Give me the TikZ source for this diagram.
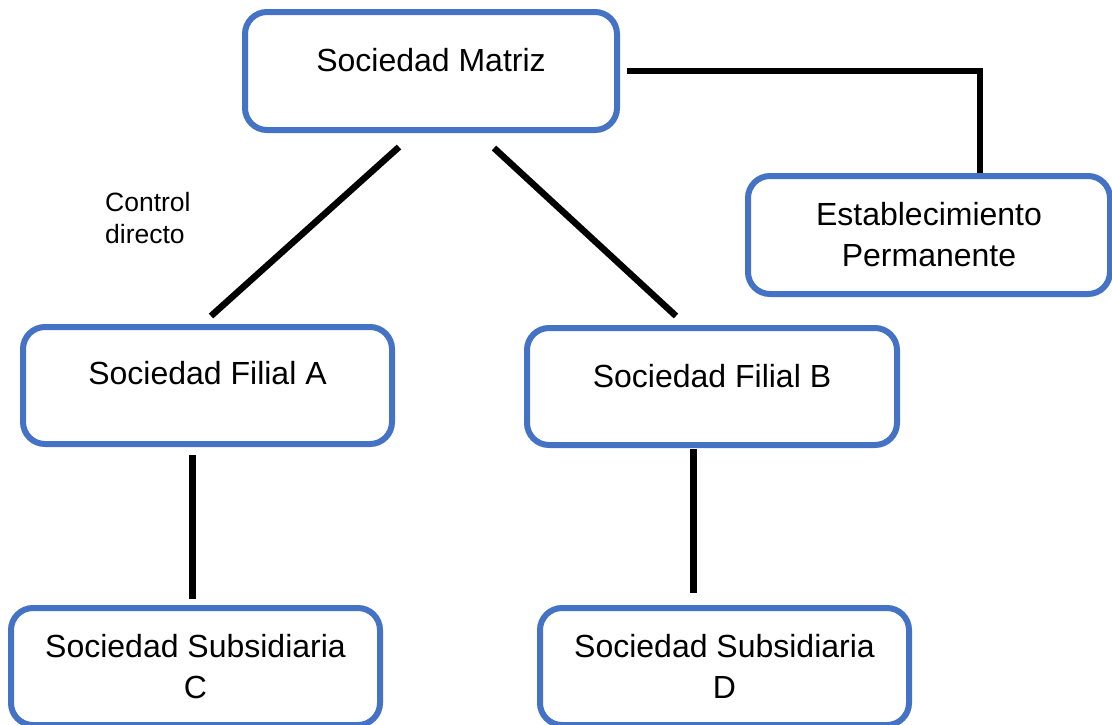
\documentclass[tikz,border=0pt]{standalone}
\usepackage{fontspec}
\setmainfont{Liberation Sans}
\usetikzlibrary{calc}
\definecolor{boxblue}{HTML}{4472C4}
\begin{document}
\begin{tikzpicture}[x=1pt,y=-1pt,
  entity/.style={draw=boxblue, line width=6pt, rounded corners=22pt, rectangle,
    minimum width=369pt, minimum height=117pt, inner sep=0pt, outer sep=0pt,
    font=\fontsize{32}{41}\selectfont},
  oneline/.style={entity, text depth=22pt},
  twoline/.style={entity, align=center},
  link/.style={line width=6.5pt, black}]
\useasboundingbox (0,0) rectangle (1112,724);
\clip (0,0) rectangle (1112,724);

% company boxes
\node[oneline, minimum width=372pt, minimum height=118pt] (matriz) at (431,71) {Sociedad Matriz};
\node[twoline, minimum width=362pt, minimum height=118pt] (estab) at (929,235) {Establecimiento\\Permanente};
\node[oneline, text depth=25pt] (filA) at (207.5,385.5) {Sociedad Filial A};
\node[oneline, minimum width=370pt] (filB) at (712,386.5) {Sociedad Filial B};
\node[twoline] (subC) at (195.5,666.5) {Sociedad Subsidiaria\\C};
\node[twoline] (subD) at (724.5,666.5) {Sociedad Subsidiaria\\D};

% side note (base anchor sits on the last line)
\node[anchor=base west, align=left, inner sep=0pt, font=\fontsize{26.5}{32}\selectfont] (ctrl) at (105,243) {Control\\directo};

% free ends of the links
\coordinate (m1) at ($(matriz.south)+(-32,17)$);
\coordinate (a1) at ($(filA.north)+(3.5,-11)$);
\coordinate (m2) at ($(matriz.south)+(63,18)$);
\coordinate (b1) at ($(filB.north)+(-36,-12)$);
\coordinate (m3) at ($(matriz.east)+(10,0)$);
\coordinate (e1) at ($(estab.north)+(51,-3)$);
\coordinate (a2) at ($(filA.south)+(-15,11)$);
\coordinate (c1) at ($(subC.north)+(-3,-9)$);
\coordinate (b2) at ($(filB.south)+(-18.7,4)$);
\coordinate (d1) at ($(subD.north)+(-31.2,-15)$);

% links
\draw[link] (m1) -- (a1);
\draw[link] (m2) -- (b1);
\draw[link] (m3) -| (e1);
\draw[link] (a2) -- (c1);
\draw[link] (b2) -- (d1);
\end{tikzpicture}
\end{document}
